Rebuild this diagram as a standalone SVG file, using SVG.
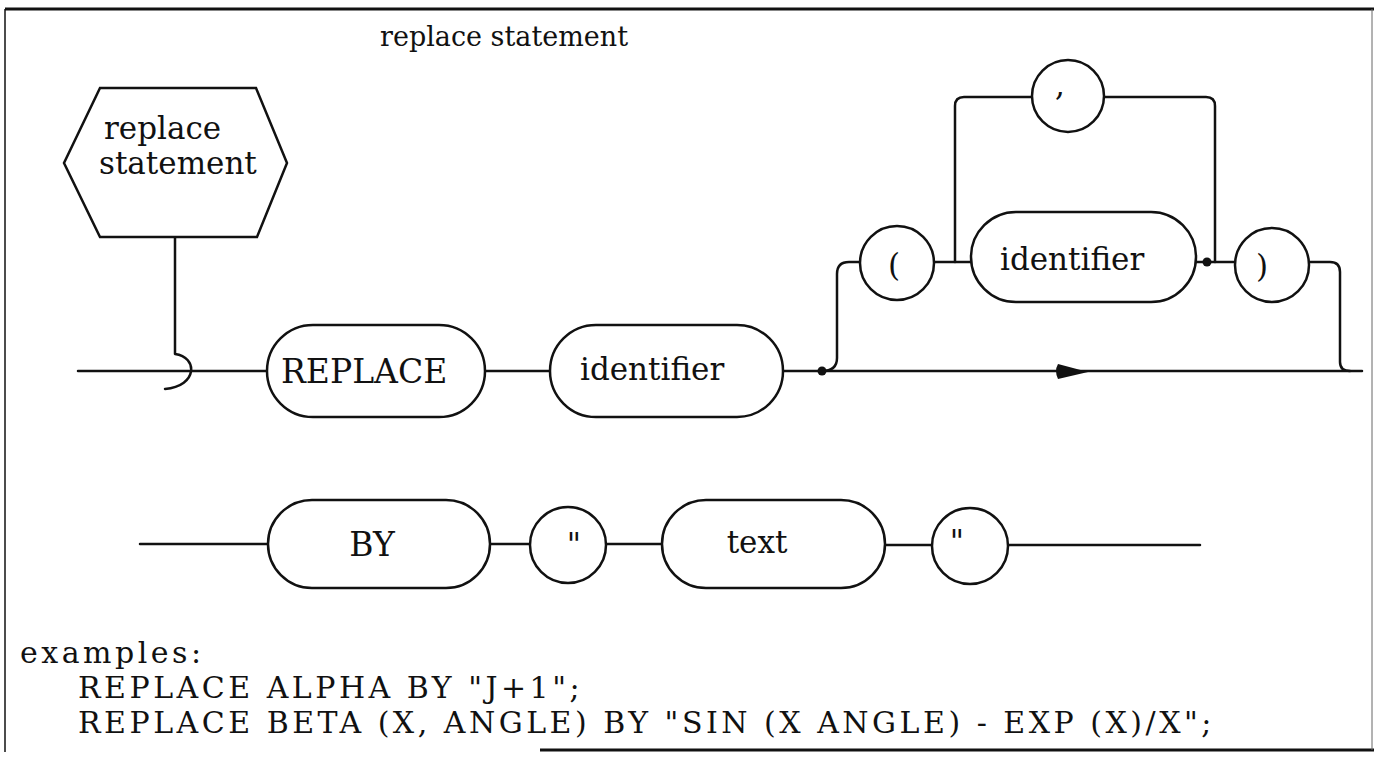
<svg xmlns="http://www.w3.org/2000/svg" width="1374" height="760" viewBox="0 0 1374 760">
<style>
  .shape { fill: #fff; stroke: #111; stroke-width: 2.5; }
  .line { fill: none; stroke: #111; stroke-width: 2.5; stroke-linecap: round; stroke-linejoin: round; }
  .t { font-family: "DejaVu Serif", "Liberation Serif", serif; fill: #111; }
  .lbl { font-size: 31px; }
  .cap { font-size: 33px; }
  .title { font-size: 27px; }
  .ex { font-size: 30px; letter-spacing: 3.5px; }
  .dot { fill: #111; }
</style>
<rect x="0" y="0" width="1374" height="760" fill="#fff"/>
<g id="frame">
  <line x1="5" y1="9" x2="1374" y2="9" stroke="#111" stroke-width="3"/>
  <line x1="5" y1="9" x2="5" y2="752" stroke="#111" stroke-width="1.5"/>
  <line x1="540" y1="750" x2="1374" y2="750" stroke="#111" stroke-width="3"/>
  <line x1="1372" y1="9" x2="1372" y2="750" stroke="#666" stroke-width="1"/>
</g>
<text class="t title" x="380" y="46">replace statement</text>
<g id="connectors">
  <path class="line" d="M175,237 V354 C198,357 198,386 165,389"/>
  <path class="line" d="M78,371 H267"/>
  <path class="line" d="M485,371 H550"/>
  <path class="line" d="M783,371 H1362"/>
  <path class="line" d="M822,371 Q837,371 837,358 V274 Q837,262 849,262 H861"/>
  <path class="line" d="M934,262 H972"/>
  <path class="line" d="M1196,262 H1236"/>
  <path class="line" d="M1308,262 H1330 Q1340,262 1340,272 V362 Q1340,371 1350,371"/>
  <path class="line" d="M955,262 V106 Q955,97 964,97 H1032"/>
  <path class="line" d="M1104,97 H1206 Q1215,97 1215,106 V262"/>
  <circle class="dot" cx="822" cy="371" r="4.5"/>
  <circle class="dot" cx="1207" cy="262" r="4.5"/>
  <path class="dot" d="M1058,364 Q1054,371 1058,379 L1088,372 Z"/>
  <path class="line" d="M140,544 H268"/>
  <path class="line" d="M490,544 H530"/>
  <path class="line" d="M606,544 H662"/>
  <path class="line" d="M885,545 H932"/>
  <path class="line" d="M1008,545 H1200"/>
</g>
<g id="node-start">
  <polygon class="shape" points="100,88 256,88 287,163 257,237 100,237 64,163"/>
  <text class="t lbl" x="104" y="139">replace</text>
  <text class="t lbl" x="99" y="174">statement</text>
</g>
<g id="node-replace">
  <rect class="shape" x="267" y="325" width="218" height="92" rx="46"/>
  <text class="t cap" x="281" y="383">REPLACE</text>
</g>
<g id="node-identifier1">
  <rect class="shape" x="550" y="325" width="233" height="92" rx="46"/>
  <text class="t lbl" x="580" y="380">identifier</text>
</g>
<g id="node-lparen">
  <circle class="shape" cx="897" cy="263" r="37"/>
  <text class="t lbl" x="894" y="276" text-anchor="middle">(</text>
</g>
<g id="node-identifier2">
  <rect class="shape" x="971" y="212" width="225" height="90" rx="45"/>
  <text class="t lbl" x="1000" y="270">identifier</text>
</g>
<g id="node-rparen">
  <circle class="shape" cx="1272" cy="265" r="37"/>
  <text class="t lbl" x="1262" y="277" text-anchor="middle">)</text>
</g>
<g id="node-comma">
  <circle class="shape" cx="1068" cy="96" r="36"/>
  <text class="t lbl" x="1060" y="96" text-anchor="middle">,</text>
</g>
<g id="node-by">
  <rect class="shape" x="268" y="500" width="222" height="88" rx="44"/>
  <text class="t cap" x="372" y="556" text-anchor="middle">BY</text>
</g>
<g id="node-quote1">
  <circle class="shape" cx="568" cy="545" r="38"/>
  <text class="t lbl" x="574" y="555" text-anchor="middle">"</text>
</g>
<g id="node-text">
  <rect class="shape" x="662" y="500" width="223" height="88" rx="44"/>
  <text class="t lbl" x="757" y="553" text-anchor="middle">text</text>
</g>
<g id="node-quote2">
  <circle class="shape" cx="970" cy="546" r="38"/>
  <text class="t lbl" x="957" y="552" text-anchor="middle">"</text>
</g>
<g id="examples">
  <text class="t ex" x="20" y="663">examples:</text>
  <text class="t ex" x="78" y="698">REPLACE ALPHA BY "J+1";</text>
  <text class="t ex" x="78" y="733">REPLACE BETA (X, ANGLE) BY "SIN (X ANGLE) - EXP (X)/X";</text>
</g>
</svg>
